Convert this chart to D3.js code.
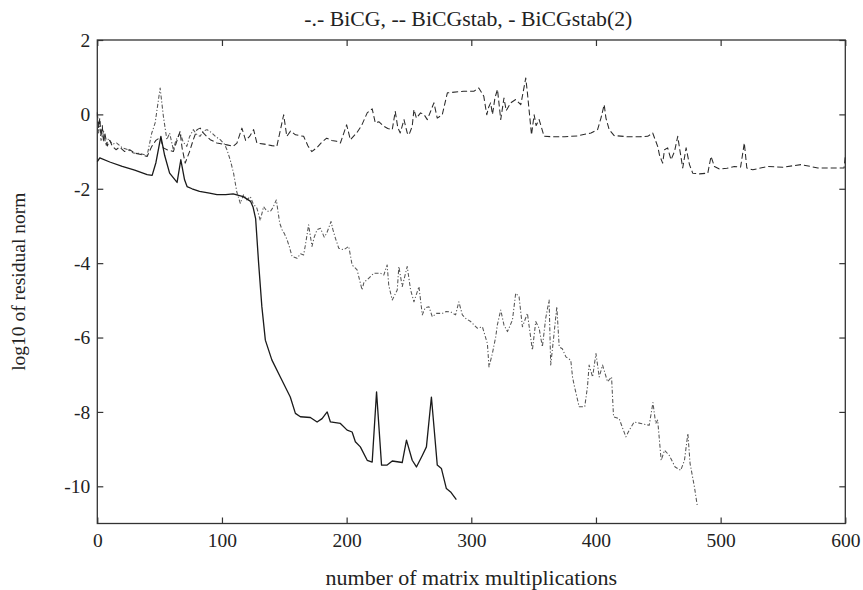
<!DOCTYPE html>
<html>
<head>
<meta charset="utf-8">
<script src="https://cdn.jsdelivr.net/npm/d3@7"></script>
<style>
  html, body { margin: 0; padding: 0; background: #fff; }
  svg { display: block; }
  text { font-family: "Liberation Serif", "Times New Roman", serif; fill: #222; }
</style>
</head>
<body>
<svg id="chart" width="863" height="590"></svg>
<script>
// Convergence histories: log10 of residual norm vs. number of matrix multiplications

// BiCG (-.-)
const bicgIter = [0,1,2,3,5,7,9,12,15.6,20,25,29,34,40,43.7,46.4,50.4,53,55.8,58,61,63,66.4,69,71.8,74,77,80,82.5,85,88,92,95,98.6,102,104,106.6,109.3,112,114.7,117.3,120,122.7,125,128,130.7,133.4,136,138.8,141,143.6,146.3,148.2,150,152.2,154,156.2,160.2,163,165.5,167,169.5,172.2,174,176.3,179,182,184,187.5,189,191,193.7,197.7,201.7,204.4,208.4,209.7,212.4,214,216.5,221.8,227,229.8,232.5,233.8,236.6,240.6,241.9,244.6,248.6,251.3,254,258,260.7,263,266,268.7,272,276.7,280,283.4,287.4,290,292.8,296,299.5,304.8,308.9,312.9,314.2,316.9,319.6,320.9,323.6,326.2,329,333,335.6,338.3,341,345,349,351.7,354.4,357,359.7,362.4,363.7,366.4,368.6,370.5,373,375.9,379.8,381.2,382.5,386.5,391,393.2,394.5,397.3,400,402.6,405.3,409.3,412.5,414.1,418.6,421,424,426.7,430.7,436,442.7,445.7,447.9,449.5,452.3,455,458.8,463.5,468,471,473.7,475.5,479,481.2];
const bicgRes = [0.0,-0.5,-0.2,-0.7,-0.45,-0.85,-0.65,-0.8,-0.77,-0.9,-0.95,-1.04,-1.05,-1.1,-0.5,-0.23,0.71,-0.05,-0.68,-0.5,-0.95,-0.7,-0.5,-0.75,-0.86,-0.6,-0.41,-0.55,-0.59,-0.45,-0.41,-0.5,-0.6,-0.68,-0.8,-0.95,-1.22,-1.58,-2.1,-2.39,-2.16,-2.3,-2.21,-2.4,-2.52,-2.85,-2.48,-2.6,-2.61,-2.5,-2.3,-2.92,-3.1,-3.2,-3.37,-3.55,-3.82,-3.87,-3.75,-3.78,-3.5,-2.97,-3.55,-3.3,-3.1,-3.06,-3.3,-3.2,-2.88,-3.1,-3.33,-3.6,-3.64,-3.55,-4.05,-4.18,-4.36,-4.72,-4.5,-4.45,-4.27,-4.27,-4.32,-4.05,-4.6,-4.99,-4.72,-4.09,-4.63,-4.09,-4.72,-5.04,-4.63,-5.39,-5.2,-5.17,-5.44,-5.35,-5.35,-5.3,-5.31,-5.39,-5.04,-5.39,-5.5,-5.57,-5.75,-5.71,-6.16,-6.79,-6.43,-5.98,-5.66,-5.26,-5.66,-5.84,-5.53,-4.81,-4.9,-5.71,-5.35,-6.34,-5.57,-5.75,-6.25,-5.48,-4.99,-6.74,-5.89,-5.17,-6.25,-6.3,-6.52,-6.61,-7.06,-7.28,-7.86,-7.86,-7.32,-6.74,-7.06,-6.43,-7.06,-6.74,-7.19,-7.06,-8.13,-8.18,-8.4,-8.67,-8.49,-8.27,-8.31,-8.36,-7.75,-8.31,-8.22,-9.3,-9.03,-9.17,-9.48,-9.57,-9.3,-8.58,-9.39,-10.02,-10.51];

// BiCGstab (--)
const bicgstabIter = [0,1,2,3,4,5,6,8,10,12,15,18,22,26,30,35,40,43.7,47,50.4,53,56,61,64,66.4,68,70.5,74,77,80,82.5,85,88,90.6,96,104,109,112,116,119,122,125.4,128,134,140,144,147,149.5,152,155,159,165.5,169,172,176,180,184,188,192,195,200,203,208,212,216.5,220.5,223,226,229.8,233,236.6,239,241,243,246,248.6,250,252.6,254,256,259.3,262,264.7,267,270,272.7,276.7,280.8,294,302,306,310,312.4,314,315.5,317,319,321,323.6,326.2,328,331.6,335.6,339.7,343.7,345,348.3,350.4,352,354.4,358.4,365,375,385,396,401.3,404,406.6,408,410.6,414.6,425,435,441.5,445.5,449.5,451,453.5,455,457.5,460.2,463,465.6,467,469.6,472.3,475,477.6,483,489.7,492.3,495,499,505,511,516,519,521,525.8,537.9,550,564.6,578,590,599,600];
const bicgstabRes = [0.05,-0.35,-0.1,-0.6,-0.3,-0.75,-0.5,-0.85,-0.7,-0.85,-0.95,-0.88,-1.0,-0.95,-1.04,-1.08,-1.13,-0.86,-0.7,-0.62,-0.9,-0.95,-1.0,-0.7,-0.46,-0.9,-1.31,-1.0,-0.68,-0.41,-0.37,-0.5,-0.6,-0.68,-0.77,-0.82,-0.86,-0.77,-0.37,-0.7,-0.6,-0.41,-0.77,-0.8,-0.84,-0.86,-0.4,-0.01,-0.59,-0.45,-0.55,-0.59,-0.85,-1.0,-0.9,-0.75,-0.64,-0.7,-0.72,-0.77,-0.28,-0.68,-0.5,-0.3,0.04,0.15,-0.23,-0.2,-0.32,-0.38,-0.41,0.08,-0.35,-0.5,-0.14,-0.5,-0.55,-0.32,0.13,-0.1,0.04,0.0,-0.14,0.05,0.31,-0.1,-0.01,0.58,0.62,0.62,0.71,0.49,-0.01,0.2,0.31,0.0,0.45,0.67,-0.14,0.44,0.1,0.31,0.4,0.26,0.98,0.58,-0.55,-0.01,-0.3,-0.14,-0.59,-0.6,-0.6,-0.58,-0.5,-0.41,-0.1,0.26,-0.1,-0.41,-0.57,-0.6,-0.6,-0.59,-0.5,-0.86,-1.1,-1.31,-0.95,-0.9,-1.22,-1.0,-0.59,-0.9,-1.44,-0.9,-1.35,-1.58,-1.6,-1.58,-1.13,-1.4,-1.47,-1.45,-1.4,-1.42,-0.77,-1.44,-1.49,-1.4,-1.42,-1.35,-1.44,-1.44,-1.44,-1.13];

// BiCGstab(2) (-)
const bicgstab2Iter = [0,2,10,20,30,40,44,47,51,54,58,64,67,70,72,76,82,90,96,103,109,117,123,125,127,129.4,132,134.8,140,146.8,154.8,158.9,162.9,170.9,176.3,180.3,184.4,187,195,200.4,204.4,207,211,216.5,220.5,224,228,232.5,236.6,244.6,248,252.6,256,260.7,264,268,272.7,276,280,283.4,288];
const bicgstab2Res = [-1.27,-1.17,-1.28,-1.4,-1.5,-1.62,-1.64,-1.3,-0.59,-1.1,-1.58,-1.83,-1.22,-1.76,-1.94,-2.0,-2.07,-2.12,-2.16,-2.16,-2.14,-2.21,-2.34,-2.5,-2.8,-4.0,-5.17,-6.07,-6.6,-7.06,-7.6,-8.04,-8.13,-8.15,-8.27,-8.18,-8.0,-8.27,-8.31,-8.49,-8.54,-8.8,-8.94,-9.3,-9.35,-7.46,-9.43,-9.43,-9.32,-9.36,-8.76,-9.3,-9.48,-9.17,-8.94,-7.6,-9.43,-9.52,-10.06,-10.15,-10.36];

const xTicks = [0, 100, 200, 300, 400, 500, 600];
const yTicks = [2, 0, -2, -4, -6, -8, -10];

const titleText = "-.- BiCG, -- BiCGstab, - BiCGstab(2)";
const xLabel = "number of matrix multiplications";
const yLabel = "log10 of residual norm";

const svg = d3.select("#chart");
const plot = { left: 97.3, right: 845.3, top: 40, bottom: 523.5 };

const x = d3.scaleLinear().domain([0, 600]).range([plot.left, plot.right]);
const y = d3.scaleLinear().domain([-11, 2]).range([plot.bottom, plot.top]);

const fmt = d => String(d);
const tickLen = 6;

// frame
svg.append("rect")
  .attr("x", plot.left).attr("y", plot.top)
  .attr("width", plot.right - plot.left).attr("height", plot.bottom - plot.top)
  .attr("fill", "none").attr("stroke", "#333").attr("stroke-width", 1.3);

function styleAxis(g) {
  g.select(".domain").remove();
  g.selectAll(".tick line").attr("stroke", "#333").attr("stroke-width", 1.2);
  g.selectAll(".tick text").attr("fill", "#222");
}

// bottom axis with labels
svg.append("g")
  .attr("transform", `translate(0,${plot.bottom})`)
  .call(d3.axisBottom(x).tickValues(xTicks).tickFormat(fmt).tickSizeInner(-tickLen).tickSizeOuter(0).tickPadding(10))
  .call(styleAxis)
  .call(g => g.selectAll(".tick text").style("font-size", "19.5px").style("font-family", "Liberation Serif"));

// top axis ticks
svg.append("g")
  .attr("transform", `translate(0,${plot.top})`)
  .call(d3.axisTop(x).tickValues(xTicks).tickFormat("").tickSizeInner(-tickLen).tickSizeOuter(0))
  .call(styleAxis);

// left axis with labels
svg.append("g")
  .attr("transform", `translate(${plot.left},0)`)
  .call(d3.axisLeft(y).tickValues(yTicks).tickFormat(fmt).tickSizeInner(-tickLen).tickSizeOuter(0).tickPadding(7))
  .call(styleAxis)
  .call(g => g.selectAll(".tick text").style("font-size", "19.5px").style("font-family", "Liberation Serif"));

// right axis ticks
svg.append("g")
  .attr("transform", `translate(${plot.right},0)`)
  .call(d3.axisRight(y).tickValues(yTicks).tickFormat("").tickSizeInner(-tickLen).tickSizeOuter(0))
  .call(styleAxis);

// series
const series = [
  { it: bicgIter, res: bicgRes, color: "#555", width: 1.05, dash: "4,2,1.2,2" },
  { it: bicgstabIter, res: bicgstabRes, color: "#2a2a2a", width: 1.05, dash: "6,3" },
  { it: bicgstab2Iter, res: bicgstab2Res, color: "#1a1a1a", width: 1.3, dash: null }
];

const line = d3.line().x(d => x(d[0])).y(d => y(d[1]));

series.forEach(s => {
  const pts = s.it.map((v, i) => [v, s.res[i]]);
  svg.append("path")
    .datum(pts)
    .attr("d", line)
    .attr("fill", "none")
    .attr("stroke", s.color)
    .attr("stroke-width", s.width)
    .attr("stroke-linejoin", "round")
    .attr("stroke-dasharray", s.dash);
});

// title
svg.append("text")
  .attr("x", (plot.left + plot.right) / 2 - 3)
  .attr("y", 26)
  .attr("text-anchor", "middle")
  .style("font-size", "21.8px")
  .text(titleText);

// x label
svg.append("text")
  .attr("x", (plot.left + plot.right) / 2)
  .attr("y", 585)
  .attr("text-anchor", "middle")
  .style("font-size", "22px")
  .text(xLabel);

// y label
svg.append("text")
  .attr("transform", `translate(25,${(plot.top + plot.bottom) / 2}) rotate(-90)`)
  .attr("text-anchor", "middle")
  .style("font-size", "19.5px")
  .text(yLabel);
</script>
</body>
</html>
